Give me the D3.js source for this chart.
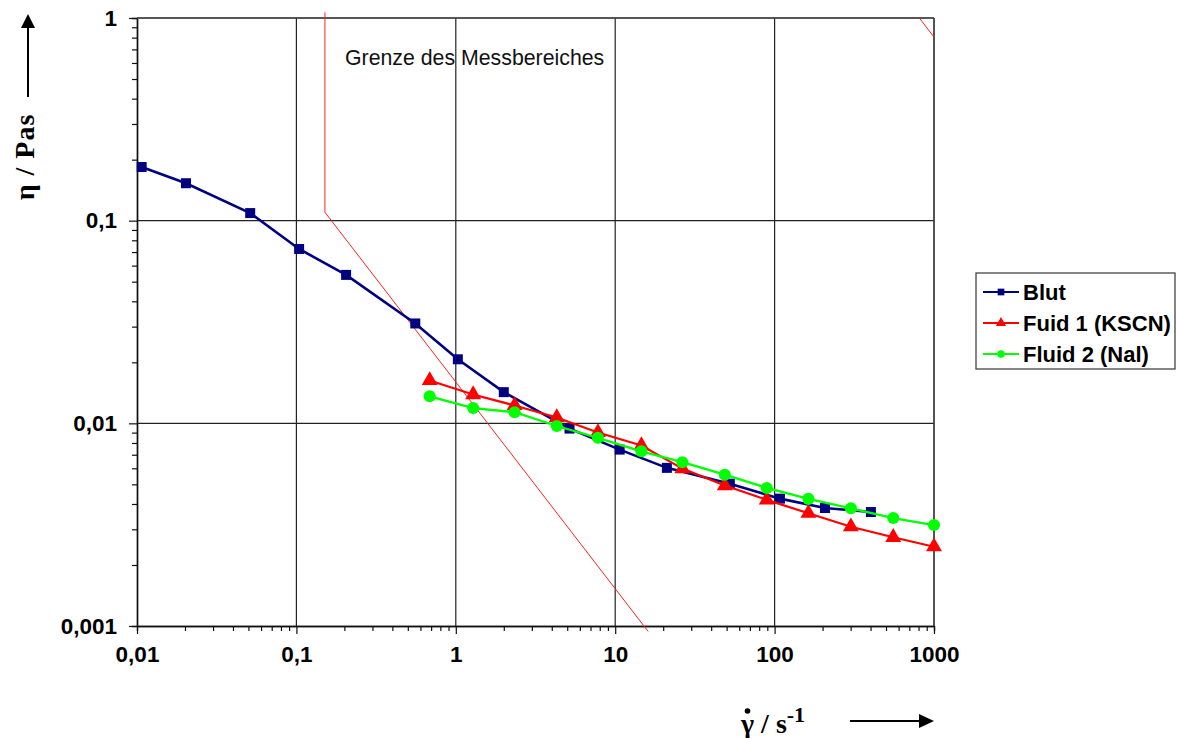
<!DOCTYPE html>
<html>
<head>
<meta charset="utf-8">
<script src="https://cdn.jsdelivr.net/npm/d3@7"></script>
<style>
  body { margin: 0; background: #fff; }
  svg { display: block; }
</style>
</head>
<body>
<svg id="chart" width="1177" height="738"></svg>
<script>
// shear rate (1/s) and viscosity (Pa s)
var bloodX = [0.0107, 0.0203, 0.0513, 0.104, 0.205, 0.557, 1.03, 2.0, 5.17, 10.67, 21.1, 52.4, 108, 207, 402];
var bloodY = [0.184, 0.153, 0.109, 0.0725, 0.054, 0.0311, 0.0207, 0.01425, 0.00942, 0.00742, 0.00603, 0.00504, 0.00425, 0.00382, 0.00365];

var fluidX = [0.686, 1.285, 2.34, 4.30, 7.79, 14.6, 26.4, 48.7, 89.3, 163, 301, 555, 1000];
var fluid1Y = [0.01627, 0.01387, 0.01225, 0.01069, 0.00901, 0.00777, 0.00598, 0.00493, 0.00419, 0.0036, 0.00309, 0.00274, 0.00246];
var fluid2Y = [0.0136, 0.0119, 0.01135, 0.0097, 0.00848, 0.00728, 0.00643, 0.00558, 0.0048, 0.00424, 0.00381, 0.00341, 0.00315];

// measuring range limits
var limitLowX = [0.151, 0.151, 16.1];
var limitLowY = [1.066, 0.11, 0.00094];
var limitHighX = [809, 1000];
var limitHighY = [1, 0.805];

var seriesNames = ["Blut", "Fuid 1 (KSCN)", "Fluid 2 (Nal)"];
var seriesColors = ["#000080", "#ff0000", "#00ff00"];

var xTicks = [0.01, 0.1, 1, 10, 100, 1000];
var xTickLabels = ["0,01", "0,1", "1", "10", "100", "1000"];
var yTicks = [0.001, 0.01, 0.1, 1];
var yTickLabels = ["0,001", "0,01", "0,1", "1"];

var svg = d3.select("#chart");

var plotLeft = 137, plotRight = 934, plotTop = 18, plotBottom = 626;

var x = d3.scaleLog().domain([0.01, 1000]).range([plotLeft, plotRight]);
var y = d3.scaleLog().domain([0.001, 1]).range([plotBottom, plotTop]);

var line = d3.line()
    .x(function (d) { return x(d[0]); })
    .y(function (d) { return y(d[1]); });

// minor ticks: 2..9 in each decade
var xMinor = [], yMinor = [];
for (var e = -2; e < 3; e++) {
    for (var m = 2; m < 10; m++) xMinor.push(m * Math.pow(10, e));
}
for (var e2 = -3; e2 < 0; e2++) {
    for (var m2 = 2; m2 < 10; m2++) yMinor.push(m2 * Math.pow(10, e2));
}

// grid
var grid = svg.append("g").attr("class", "grid");
grid.selectAll("line.vx")
    .data(xTicks.slice(1))
    .enter().append("line")
    .attr("x1", function (d) { return x(d); })
    .attr("x2", function (d) { return x(d); })
    .attr("y1", plotTop).attr("y2", plotBottom)
    .attr("stroke", "#222").attr("stroke-width", 1.2);
grid.selectAll("line.hy")
    .data(yTicks.slice(1))
    .enter().append("line")
    .attr("x1", plotLeft).attr("x2", plotRight)
    .attr("y1", function (d) { return y(d); })
    .attr("y2", function (d) { return y(d); })
    .attr("stroke", "#222").attr("stroke-width", 1.2);

// axes
var xAxis = d3.axisBottom(x).tickValues(xMinor).tickSize(5).tickFormat("");
var yAxis = d3.axisLeft(y).tickValues(yMinor).tickSize(5).tickFormat("");

var gx = svg.append("g").attr("transform", "translate(0," + plotBottom + ")").call(xAxis);
var gy = svg.append("g").attr("transform", "translate(" + plotLeft + ",0)").call(yAxis);

var gxMajor = svg.append("g").attr("transform", "translate(0," + plotBottom + ")")
    .call(d3.axisBottom(x).tickValues(xTicks).tickSize(8).tickSizeOuter(0)
        .tickFormat(function (d, i) { return xTickLabels[i]; }));
var gyMajor = svg.append("g").attr("transform", "translate(" + plotLeft + ",0)")
    .call(d3.axisLeft(y).tickValues(yTicks).tickSize(8).tickSizeOuter(0)
        .tickFormat(function (d, i) { return yTickLabels[i]; }));

[gx, gy, gxMajor, gyMajor].forEach(function (g) {
    g.selectAll("line").attr("stroke", "#111").attr("stroke-width", 1.2);
    g.select(".domain").attr("stroke", "#111").attr("stroke-width", 1.4);
});
gxMajor.selectAll("text")
    .attr("y", 20)
    .attr("font-family", "'Liberation Sans', Arial, sans-serif")
    .attr("font-size", 22.5).attr("font-weight", "bold").attr("fill", "#000");
gyMajor.selectAll("text")
    .attr("x", -20)
    .attr("font-family", "'Liberation Sans', Arial, sans-serif")
    .attr("font-size", 22.5).attr("font-weight", "bold").attr("fill", "#000");

// top and right frame
svg.append("line").attr("x1", plotLeft).attr("x2", plotRight).attr("y1", plotTop).attr("y2", plotTop)
    .attr("stroke", "#444").attr("stroke-width", 1.4);
svg.append("line").attr("x1", plotRight).attr("x2", plotRight).attr("y1", plotTop).attr("y2", plotBottom)
    .attr("stroke", "#444").attr("stroke-width", 1.4);

// limit lines
svg.append("path")
    .datum(d3.zip(limitLowX, limitLowY))
    .attr("d", line)
    .attr("fill", "none").attr("stroke", "#ff2020").attr("stroke-width", 1);
svg.append("path")
    .datum(d3.zip(limitHighX, limitHighY))
    .attr("d", line)
    .attr("fill", "none").attr("stroke", "#ff2020").attr("stroke-width", 1);

svg.append("text")
    .attr("x", 345).attr("y", 65)
    .attr("font-family", "'Liberation Sans', Arial, sans-serif")
    .attr("font-size", 21.3).attr("fill", "#111")
    .text("Grenze des Messbereiches");

// data series
var series = [
    d3.zip(bloodX, bloodY),
    d3.zip(fluidX, fluid1Y),
    d3.zip(fluidX, fluid2Y)
];
var symbols = [d3.symbolSquare, d3.symbolTriangle, d3.symbolCircle];
var symbolSizes = [100, 110, 115];
var lineWidths = [2.6, 2.2, 2.3];

series.forEach(function (data, i) {
    svg.append("path")
        .datum(data)
        .attr("d", line)
        .attr("fill", "none")
        .attr("stroke", seriesColors[i])
        .attr("stroke-width", lineWidths[i]);
    svg.append("g").selectAll("path")
        .data(data)
        .enter().append("path")
        .attr("transform", function (d) { return "translate(" + x(d[0]) + "," + y(d[1]) + ")"; })
        .attr("d", d3.symbol().type(symbols[i]).size(symbolSizes[i]))
        .attr("fill", seriesColors[i]);
});

// legend
var legend = svg.append("g").attr("transform", "translate(976,273)");
legend.append("rect")
    .attr("width", 199).attr("height", 96)
    .attr("fill", "#fff").attr("stroke", "#444").attr("stroke-width", 1.3);
seriesNames.forEach(function (name, i) {
    var ly = 19 + i * 31;
    legend.append("line")
        .attr("x1", 7).attr("x2", 43).attr("y1", ly).attr("y2", ly)
        .attr("stroke", seriesColors[i]).attr("stroke-width", 2);
    legend.append("path")
        .attr("transform", "translate(25," + ly + ")")
        .attr("d", d3.symbol().type(symbols[i]).size(45))
        .attr("fill", seriesColors[i]);
    legend.append("text")
        .attr("x", 47).attr("y", ly)
        .attr("dy", "0.36em")
        .attr("font-family", "'Liberation Sans', Arial, sans-serif")
        .attr("font-size", 22).attr("font-weight", "bold")
        .text(name);
});

// axis titles with arrows
svg.append("text")
    .attr("transform", "translate(34,157) rotate(-90)")
    .attr("text-anchor", "middle")
    .attr("font-family", "'Liberation Serif', 'Times New Roman', serif")
    .attr("font-size", 28).attr("font-weight", "bold")
    .attr("letter-spacing", 1)
    .text("η / Pas");
svg.append("line")
    .attr("x1", 28).attr("x2", 28).attr("y1", 97).attr("y2", 25)
    .attr("stroke", "#000").attr("stroke-width", 2);
svg.append("path")
    .attr("d", "M28,14 L21,28 L35,28 Z")
    .attr("fill", "#000");

var xt = svg.append("text")
    .attr("x", 741).attr("y", 733)
    .attr("font-family", "'Liberation Serif', 'Times New Roman', serif")
    .attr("font-size", 28).attr("font-weight", "bold");
xt.append("tspan").text("γ / s");
xt.append("tspan").attr("dy", -11).attr("font-size", 22).text("-1");
// dot over gamma (time derivative)
svg.append("circle")
    .attr("cx", 747.5).attr("cy", 711).attr("r", 2.8)
    .attr("fill", "#000");
svg.append("line")
    .attr("x1", 850).attr("x2", 920).attr("y1", 721).attr("y2", 721)
    .attr("stroke", "#000").attr("stroke-width", 2);
svg.append("path")
    .attr("d", "M934,721 L919,714 L919,728 Z")
    .attr("fill", "#000");
</script>
</body>
</html>
